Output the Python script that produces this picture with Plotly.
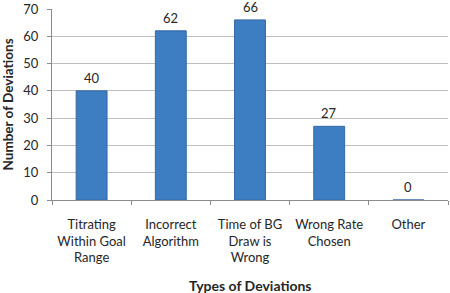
import plotly.graph_objects as go

categories = ["Titrating<br>Within Goal<br>Range", "Incorrect<br>Algorithm", "Time of BG<br>Draw is<br>Wrong", "Wrong Rate<br>Chosen", "Other"]
values = [40, 62, 66, 27, 0]
y_ticks = [0, 10, 20, 30, 40, 50, 60, 70]

font_family = "Lato, Open Sans, Liberation Sans, Arial"
text_color = "#262626"

fig = go.Figure(go.Bar(
    x=categories, y=values,
    marker=dict(color="#3D7DC1", line=dict(color="#3468A6", width=1)),
    width=0.39,
))

annotations = [
    dict(x=c, y=v, xref="x", yref="y", text=str(v), showarrow=False,
         yshift=13, yanchor="middle", font=dict(size=13, color=text_color, family=font_family))
    for c, v in zip(categories, values)
]
annotations.append(dict(x=0.5, y=0, xref="paper", yref="paper", text="<b>Types of Deviations</b>",
                        showarrow=False, yshift=-85, yanchor="middle",
                        font=dict(size=14, color=text_color, family=font_family)))
annotations.append(dict(x=0, y=0.5, xref="paper", yref="paper", text="<b>Number of Deviations</b>",
                        showarrow=False, xshift=-45, xanchor="center", yanchor="middle", textangle=-90,
                        font=dict(size=13.5, color=text_color, family=font_family)))

fig.update_layout(
    width=450, height=293,
    margin=dict(l=52, r=2, t=9, b=93),
    paper_bgcolor="white", plot_bgcolor="white",
    showlegend=False,
    font=dict(family=font_family, size=13, color=text_color),
    annotations=annotations,
)
fig.update_xaxes(
    type="category", tickson="boundaries", ticks="outside", ticklen=4,
    tickcolor="#8C8C8C", showline=True, linecolor="#8C8C8C", linewidth=1,
    tickfont=dict(size=13, family=font_family, color=text_color),
    ticklabelstandoff=12, automargin=False,
)
fig.update_yaxes(
    range=[0, 70], tickvals=y_ticks, ticks="outside", ticklen=4, tickcolor="#8C8C8C",
    showline=True, linecolor="#8C8C8C", linewidth=1,
    showgrid=True, gridcolor="#BFBFBF", gridwidth=1, zeroline=False,
    tickfont=dict(size=13, family=font_family, color=text_color),
    ticklabelstandoff=6, automargin=False,
)

fig.write_html("out.html", config={"displayModeBar": False},
               post_script="document.body.style.margin='0';document.body.style.overflow='hidden';")
